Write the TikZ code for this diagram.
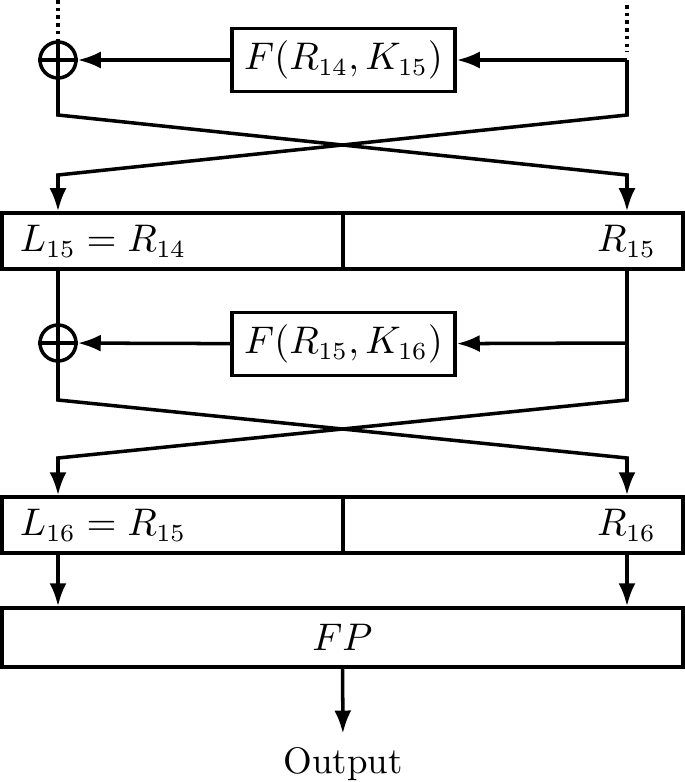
\documentclass[tikz,border=0pt]{standalone}
\usetikzlibrary{arrows.meta}
\usepackage{amsmath}

\begin{document}
\begin{tikzpicture}[line width=1pt, >={Latex[length=2.3mm,width=1.7mm]},
	    font=\fontsize{10.5}{12.6}\selectfont,
	    fbox/.style={draw, minimum width=2.23cm, minimum height=0.63cm, inner sep=0},
	    xorc/.style={draw, circle, minimum size=0.36cm, inner sep=0},
	    lhalf/.style={draw, minimum height=0.56cm, text width=3.05cm, inner xsep=0.18cm, align=left},
	    rhalf/.style={draw, minimum height=0.56cm, text width=2.86cm, inner xsep=0.27cm, align=right},
	    dots/.style={dash pattern=on 1pt off 1.2pt}]
	    \useasboundingbox (0, 0) rectangle (6.85, -7.82);
	    
	    % round 15
	    \coordinate (t1) at (0.58, 0);
	    \coordinate (t2) at (6.27, -0.05);
	    \node[xorc] at (0.58, -0.60) (x1) {};
	    \node[fbox] at (3.435, -0.60) (f1) {$F(R_{14}, K_{15})$};
	    \coordinate (r1) at (6.27, -0.60);
	    \coordinate (c1) at (0.58, -1.15);
	    \coordinate (c2) at (6.27, -1.15);
	    \coordinate (c3) at (0.58, -1.75);
	    \coordinate (c4) at (6.27, -1.75);
	    \node[lhalf] at (1.725, -2.41) (b1l) {$L_{15} = R_{14}$};
	    \node[rhalf] at (5.13, -2.41) (b1r) {$R_{15}$};
	    
	    \draw[dots] (t1) -- (x1.north);
	    \draw[dots] (t2) -- ([yshift=0.08cm]r1);
	    \draw (x1.north) -- (x1.south) (x1.west) -- (x1.east);
	    \draw[->] (r1) -- (f1);
	    \draw[->] (f1) -- (x1);
	    \draw[->] (x1) -- (c1) -- (c4) -- (c4 |- b1r.north);
	    \draw[->] (r1) -- (c2) -- (c3) -- (c3 |- b1l.north);
	    
	    % round 16
	    \node[xorc] at (0.58, -3.43) (x2) {};
	    \node[fbox] at (3.435, -3.44) (f2) {$F(R_{15}, K_{16})$};
	    \coordinate (r2) at (6.27, -3.43);
	    \coordinate (c5) at (0.58, -4.00);
	    \coordinate (c6) at (6.27, -4.00);
	    \coordinate (c7) at (0.58, -4.58);
	    \coordinate (c8) at (6.27, -4.58);
	    \node[lhalf] at (1.725, -5.25) (b2l) {$L_{16} = R_{15}$};
	    \node[rhalf] at (5.13, -5.25) (b2r) {$R_{16}$};
	    
	    \draw (c3 |- b1l.south) -- (x2);
	    \draw (x2.north) -- (x2.south) (x2.west) -- (x2.east);
	    \draw (c4 |- b1r.south) -- (r2);
	    \draw[->] (r2) -- (f2);
	    \draw[->] (f2) -- (x2);
	    \draw[->] (x2) -- (c5) -- (c8) -- (c8 |- b2r.north);
	    \draw[->] (r2) -- (c6) -- (c7) -- (c7 |- b2l.north);
	    
	    % final permutation
	    \node[draw, minimum width=6.81cm, minimum height=0.59cm] at (3.425, -6.375) (FP) {$FP$};
	    \node[anchor=base] at (3.43, -7.73) (out) {Output};
	    
	    \draw[->] (c7 |- b2l.south) -- (c7 |- FP.north);
	    \draw[->] (c8 |- b2r.south) -- (c8 |- FP.north);
	    \draw[->] (FP) -- (out);
	    
\end{tikzpicture}
\end{document}
